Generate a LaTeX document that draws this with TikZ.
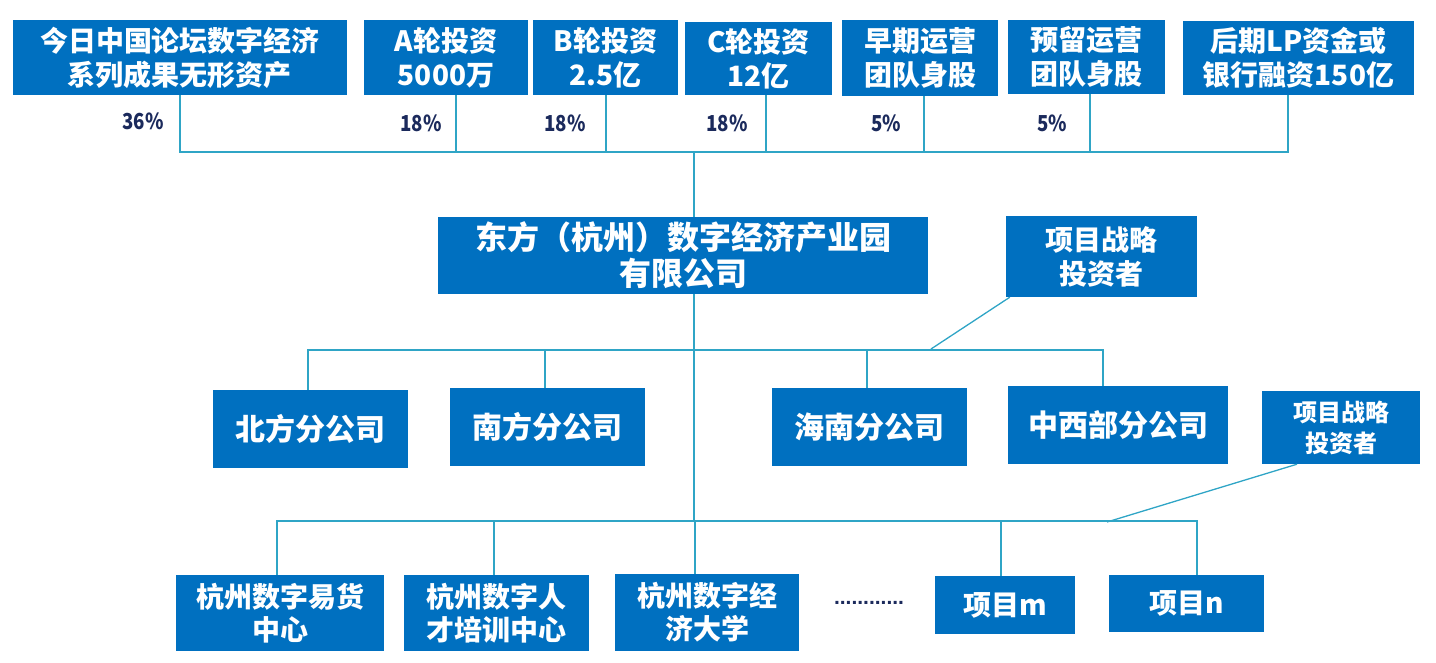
\documentclass[tikz,border=0pt]{standalone}
\usepackage{fontspec}
\newfontfamily\cjk{Noto Sans CJK SC}
\newfontfamily\lat{Liberation Sans}
\definecolor{boxblue}{HTML}{0070C0}
\definecolor{linecol}{HTML}{2FA5C6}
\definecolor{navy}{HTML}{1B2A5C}
\begin{document}
\begin{tikzpicture}[x=1pt,y=-1pt,
  box/.style={fill=boxblue, text=white, align=center, inner sep=0pt},
  fA/.style={font=\cjk\bfseries\fontsize{28}{34}\selectfont},
  fM/.style={font=\cjk\bfseries\fontsize{32}{36}\selectfont},
  fB/.style={font=\cjk\bfseries\fontsize{30}{34}\selectfont},
  fS/.style={font=\cjk\bfseries\fontsize{24}{31}\selectfont},
  fC/.style={font=\cjk\bfseries\fontsize{28}{33}\selectfont},
  conn/.style={draw=linecol, line width=1.3pt},
  pct/.style={text=navy, inner sep=0pt, font=\cjk\bfseries\fontsize{22}{24}\selectfont}]
\useasboundingbox (0,0) rectangle (1436,662);
% top row
\node[box,fA,minimum width=334pt,minimum height=75pt] (t1) at (180,57.5) {今日中国论坛数字经济\\系列成果无形资产};
\node[box,fA,minimum width=164pt,minimum height=75pt] (t2) at (446,57.5) {A轮投资\\5000万};
\node[box,fA,minimum width=145pt,minimum height=75pt] (t3) at (605.5,57.5) {B轮投资\\2.5亿};
\node[box,fA,minimum width=147pt,minimum height=73pt] (t4) at (758.5,58.5) {C轮投资\\12亿};
\node[box,fA,minimum width=156pt,minimum height=76pt] (t5) at (920,58) {早期运营\\团队身股};
\node[box,fA,minimum width=157pt,minimum height=74pt] (t6) at (1086.5,57) {预留运营\\团队身股};
\node[box,fA,minimum width=231pt,minimum height=74pt] (t7) at (1298.5,58) {后期LP资金或\\银行融资150亿};
% percentages
\node[pct] (p1) at (143,121) {\scalebox{0.85}[1]{36\%}};
\node[pct] (p2) at (421,123) {\scalebox{0.85}[1]{18\%}};
\node[pct] (p3) at (565,123) {\scalebox{0.85}[1]{18\%}};
\node[pct] (p4) at (727,123) {\scalebox{0.85}[1]{18\%}};
\node[pct] (p5) at (886,123) {\scalebox{0.85}[1]{5\%}};
\node[pct] (p6) at (1052,123) {\scalebox{0.85}[1]{5\%}};
% main
\node[box,fM,minimum width=490pt,minimum height=77pt] (m) at (683,255.5) {东方（杭州）数字经济产业园\\有限公司};
\node[box,fA,minimum width=191pt,minimum height=81pt] (s1) at (1101.5,256.5) {项目战略\\投资者};
% branches
\node[box,fB,minimum width=195pt,minimum height=78pt] (b1) at (310.5,429) {北方分公司};
\node[box,fB,minimum width=195pt,minimum height=78pt] (b2) at (547.5,427) {南方分公司};
\node[box,fB,minimum width=195pt,minimum height=78pt] (b3) at (869.5,427) {海南分公司};
\node[box,fB,minimum width=220pt,minimum height=78pt] (b4) at (1118,425) {中西部分公司};
\node[box,fS,minimum width=158pt,minimum height=73pt] (s2) at (1341,427.5) {项目战略\\投资者};
% bottom
\node[box,fC,minimum width=208pt,minimum height=76pt] (c1) at (280,613) {杭州数字易货\\中心};
\node[box,fC,minimum width=185pt,minimum height=76pt] (c2) at (496.5,613) {杭州数字人\\才培训中心};
\node[box,fC,minimum width=184pt,minimum height=77pt] (c3) at (707,612.5) {杭州数字经\\济大学};
\node[box,fC,minimum width=140pt,minimum height=58pt] (cm) at (1005,605) {项目m};
\node[box,fC,minimum width=155pt,minimum height=57pt] (cn) at (1186.5,603.5) {项目n};
\node[text=navy, inner sep=0pt, font=\lat\bfseries\fontsize{21}{24}\selectfont] (dots) at (869,603) {............};
% hubs
\coordinate (h1) at (694,152);
\coordinate (h2) at (694,350);
\coordinate (h3) at (694,521);
\coordinate (d1) at (931,349);
\coordinate (d2) at (1107,522);
% top connectors
\draw[conn] (t1.south) |- (h1);
\draw[conn] ([xshift=10pt]t2.south) |- (h1);
\draw[conn] ([xshift=0.5pt]t3.south) |- (h1);
\draw[conn] ([xshift=7.5pt]t4.south) |- (h1);
\draw[conn] ([xshift=4pt]t5.south) |- (h1);
\draw[conn] ([xshift=3.5pt]t6.south) |- (h1);
\draw[conn] ([xshift=-10.5pt]t7.south) |- (h1);
\draw[conn] (h1) -- ([xshift=11pt]m.north);
% main down
\draw[conn] ([xshift=11pt]m.south) -- (h3);
\draw[conn] ([xshift=-2.5pt]b1.north) |- (h2);
\draw[conn] ([xshift=-2.5pt]b2.north) |- (h2);
\draw[conn] ([xshift=-2.5pt]b3.north) |- (h2);
\draw[conn] ([xshift=-15pt]b4.north) |- (h2);
\draw[conn] ([xshift=4pt]s1.south west) -- (d1);
% bottom
\draw[conn] ([xshift=-3pt]c1.north) |- (h3);
\draw[conn] ([xshift=-2.5pt]c2.north) |- (h3);
\draw[conn] ([xshift=-12pt]c3.north) |- (h3);
\draw[conn] ([xshift=-4pt]cm.north) |- (h3);
\draw[conn] ([xshift=10.5pt]cn.north) |- (h3);
\draw[conn] ([xshift=-44pt]s2.south) -- (d2);
\end{tikzpicture}
\end{document}
